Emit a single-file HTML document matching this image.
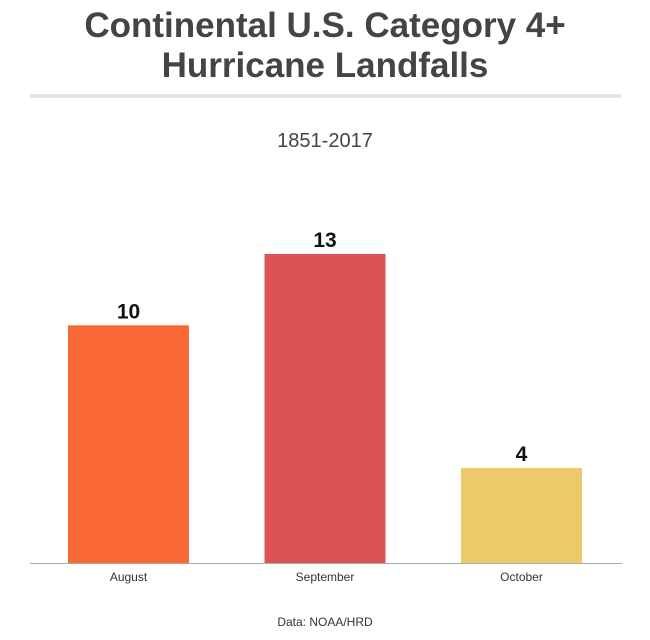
<!DOCTYPE html>
<html><head><meta charset="utf-8"><style>
body{margin:0;background:#fff;width:650px;height:635px;overflow:hidden;font-family:"Liberation Sans",sans-serif}
</style></head><body>
<svg width="650" height="635" id="c">
<text x="325" y="37" text-anchor="middle" font-size="35" font-weight="bold" fill="#444">Continental U.S. Category 4+</text>
<text x="325" y="77" text-anchor="middle" font-size="35" font-weight="bold" fill="#444">Hurricane Landfalls</text>
<rect x="30" y="94" width="591" height="4" fill="#e2e2e2"/>
<text x="325" y="147" text-anchor="middle" font-size="20" fill="#444">1851-2017</text>
<g id="bars"></g>
<line x1="30" y1="563.5" x2="622" y2="563.5" stroke="#aaa" stroke-width="1"/>
<text x="325" y="626" text-anchor="middle" font-size="12" fill="#333">Data: NOAA/HRD</text>
</svg>
<script>
const categories=["August","September","October"];
const values=[10,13,4];
const colors=["#F96835","#DB5355","#EEC96A"];
const NS="http://www.w3.org/2000/svg";
const base=563, perUnit=23.77, x0=68, step=196.5, bw=121;
const y=v=>base-v*perUnit;
const g=document.getElementById("bars");
categories.forEach((c,i)=>{
  const x=x0+i*step;
  const r=document.createElementNS(NS,"rect");
  
  
  r.setAttribute("x",x);r.setAttribute("y",y(values[i]));r.setAttribute("width",bw);r.setAttribute("height",base-y(values[i]));r.setAttribute("fill",colors[i]);
  g.appendChild(r);
  const t=document.createElementNS(NS,"text");
  
  
  t.setAttribute("x",x+bw/2);t.setAttribute("y",y(values[i])-7);t.setAttribute("text-anchor","middle");t.setAttribute("font-size","21");t.setAttribute("font-weight","bold");t.setAttribute("fill","#111");
  t.textContent=values[i];g.appendChild(t);
  const l=document.createElementNS(NS,"text");
  
  
  l.setAttribute("x",x+bw/2);l.setAttribute("y",581);l.setAttribute("text-anchor","middle");l.setAttribute("font-size","12");l.setAttribute("fill","#333");
  l.textContent=c;g.appendChild(l);
});
</script>
</body></html>
